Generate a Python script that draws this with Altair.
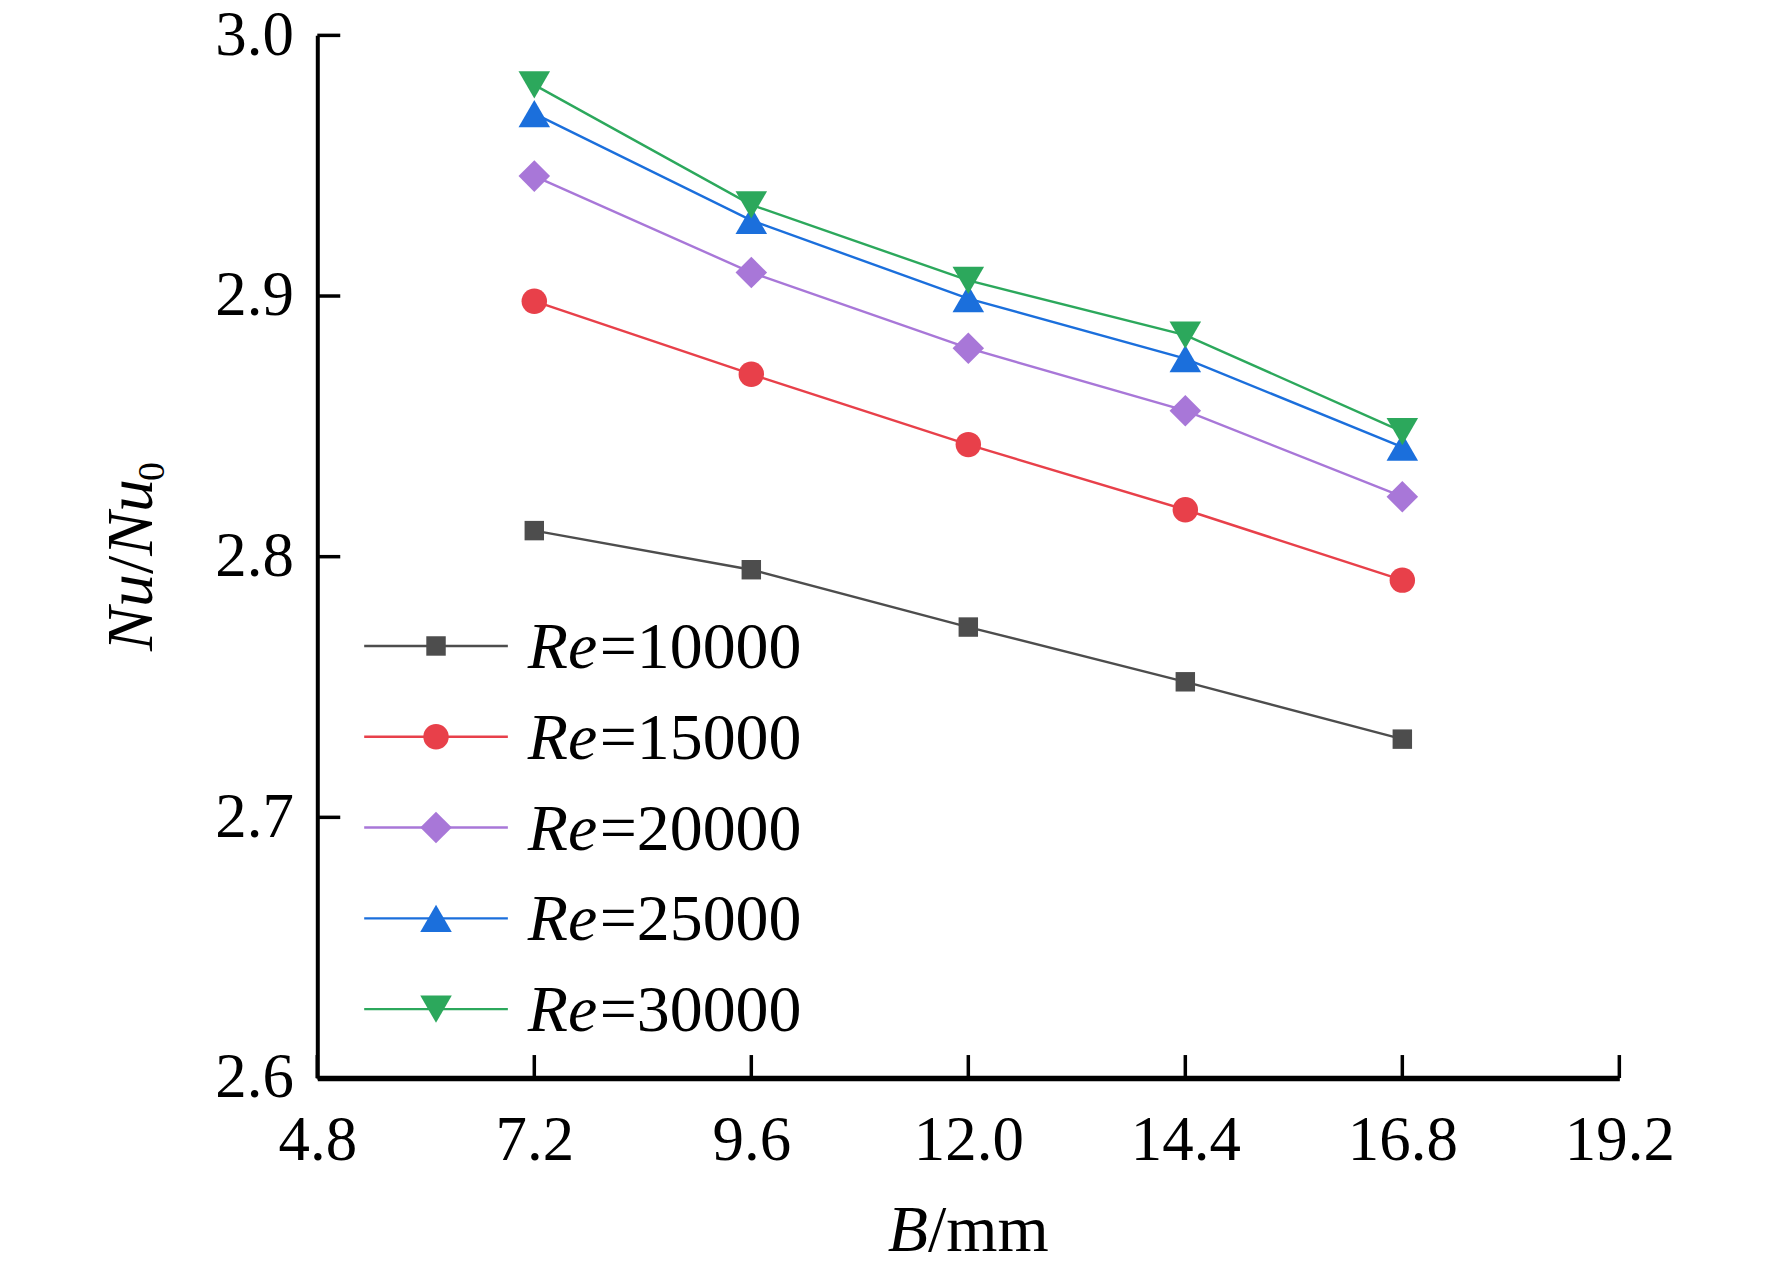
import altair as alt
import pandas as pd

# ---- data ----
B_mm = [7.2, 9.6, 12.0, 14.4, 16.8]
series = ["10000", "15000", "20000", "25000", "30000"]
re_10000 = [2.810, 2.795, 2.773, 2.752, 2.730]
re_15000 = [2.898, 2.870, 2.843, 2.818, 2.791]
re_20000 = [2.946, 2.909, 2.880, 2.856, 2.823]
re_25000 = [2.970, 2.929, 2.899, 2.876, 2.842]
re_30000 = [2.981, 2.935, 2.906, 2.885, 2.848]
x_ticks = [4.8, 7.2, 9.6, 12.0, 14.4, 16.8, 19.2]
y_ticks = [2.6, 2.7, 2.8, 2.9, 3.0]

colors = ["#4d4d4d", "#e8404a", "#a877d8", "#1b6fdc", "#2ca85c"]
shapes = ["square", "circle", "diamond", "triangle-up", "triangle-down"]
sizes = [380, 650, 1000, 1000, 1000]

W, H = 1305, 1045
FONT = "Liberation Serif"

rows = []
for s, vals in zip(series, [re_10000, re_15000, re_20000, re_25000, re_30000]):
    for b, v in zip(B_mm, vals):
        rows.append({"B": b, "v": v, "series": s})
df = pd.DataFrame(rows)

color_scale = alt.Scale(domain=series, range=colors)
shape_scale = alt.Scale(domain=series, range=shapes)
size_scale = alt.Scale(type="ordinal", domain=series, range=sizes)

xs = alt.Scale(domain=[4.8, 19.2], nice=False, zero=False)
ys = alt.Scale(domain=[2.6, 3.0], nice=False, zero=False)

x_enc = alt.X("B:Q", scale=xs, axis=alt.Axis(
    values=x_ticks, format=".1f", title=None, grid=False, ticks=False, tickSize=0,
    labelFont=FONT, labelFontSize=63, labelColor="black", labelPadding=32,
    domainColor="black", domainWidth=5.5, labelFlush=False))
y_enc = alt.Y("v:Q", scale=ys, axis=alt.Axis(
    values=y_ticks, format=".1f", title=None, grid=False, ticks=False, tickSize=0,
    labelFont=FONT, labelFontSize=63, labelColor="black", labelPadding=24,
    domainColor="black", domainWidth=4, labelFlush=False))

lines = alt.Chart(df).mark_line(strokeWidth=2.4).encode(
    x=x_enc, y=y_enc,
    color=alt.Color("series:N", scale=color_scale, legend=None),
    detail="series:N")
points = alt.Chart(df).mark_point(filled=True, opacity=1).encode(
    x=alt.X("B:Q", scale=xs), y=alt.Y("v:Q", scale=ys),
    color=alt.Color("series:N", scale=color_scale, legend=None),
    shape=alt.Shape("series:N", scale=shape_scale, legend=None),
    size=alt.Size("series:N", scale=size_scale, legend=None))

xt = pd.DataFrame({"t": x_ticks})
yt = pd.DataFrame({"t": y_ticks})
x_tick_marks = alt.Chart(xt).mark_rule(color="black", strokeWidth=3.5).encode(
    x=alt.X("t:Q", scale=xs), y=alt.value(H), y2=alt.value(H - 23))
y_tick_marks = alt.Chart(yt).mark_rule(color="black", strokeWidth=3.5).encode(
    y=alt.Y("t:Q", scale=ys), x=alt.value(0), x2=alt.value(23))

main = alt.layer(lines, points, x_tick_marks, y_tick_marks)

# ---- manual legend (mixed italic text) ----
leg = pd.DataFrame({"series": series, "num": ["=" + s for s in series], "re": ["Re"] * 5})
ly = alt.Y("series:N", axis=None,
           scale=alt.Scale(type="point", domain=series, range=[612, 976], padding=0))
leg_lines = alt.Chart(leg).mark_rule(strokeWidth=2.4).encode(
    y=ly, x=alt.value(47), x2=alt.value(191),
    color=alt.Color("series:N", scale=color_scale, legend=None))
leg_pts = alt.Chart(leg).mark_point(filled=True, opacity=1).encode(
    y=ly, x=alt.value(119),
    color=alt.Color("series:N", scale=color_scale, legend=None),
    shape=alt.Shape("series:N", scale=shape_scale, legend=None),
    size=alt.Size("series:N", scale=size_scale, legend=None))
leg_re = alt.Chart(leg).mark_text(font=FONT, fontSize=66, fontStyle="italic", align="left",
                                  baseline="alphabetic", dy=22, color="black").encode(
    y=ly, x=alt.value(211), text="re:N")
leg_num = alt.Chart(leg).mark_text(font=FONT, fontSize=66, align="left",
                                   baseline="alphabetic", dy=22, color="black").encode(
    y=ly, x=alt.value(283), text="num:N")
legend = alt.layer(leg_lines, leg_pts, leg_re, leg_num)

# ---- axis titles with mixed styles ----
def txt(t, x, y, size=66, italic=False, angle=0, align="left"):
    kw = dict(font=FONT, fontSize=size, align=align, baseline="alphabetic", color="black")
    if italic:
        kw["fontStyle"] = "italic"
    if angle:
        kw["angle"] = angle
    return alt.Chart(pd.DataFrame({"t": [t]})).mark_text(**kw).encode(
        x=alt.value(x), y=alt.value(y), text="t:N")

fs = 66
b_w = 0.611 * fs
xt_start = W / 2 - (0.611 + 0.278 + 1.556) * fs / 2
x_title = alt.layer(
    txt("B", xt_start, 1218, fs, italic=True),
    txt("/mm", xt_start + b_w, 1218, fs),
)

nu_w = (0.667 + 0.5) * fs
slash_w = 0.278 * fs
y0 = 617
bx = -166
y_title = alt.layer(
    txt("Nu", bx, y0, fs, italic=True, angle=270),
    txt("/", bx, y0 - nu_w, fs, angle=270),
    txt("Nu", bx, y0 - nu_w - slash_w, fs, italic=True, angle=270),
    txt("0", bx + 12, y0 - 2 * nu_w - slash_w + 2, 38, angle=270),
)

chart = alt.layer(main, legend, x_title, y_title).resolve_scale(
    y="independent"
).properties(
    width=W, height=H,
    autosize=alt.AutoSizeParams(type="none"),
    padding={"left": 310, "top": 26, "right": 145, "bottom": 185},
).configure_view(stroke=None)

chart.save("out.html", embed_options={"renderer": "svg", "actions": False})
